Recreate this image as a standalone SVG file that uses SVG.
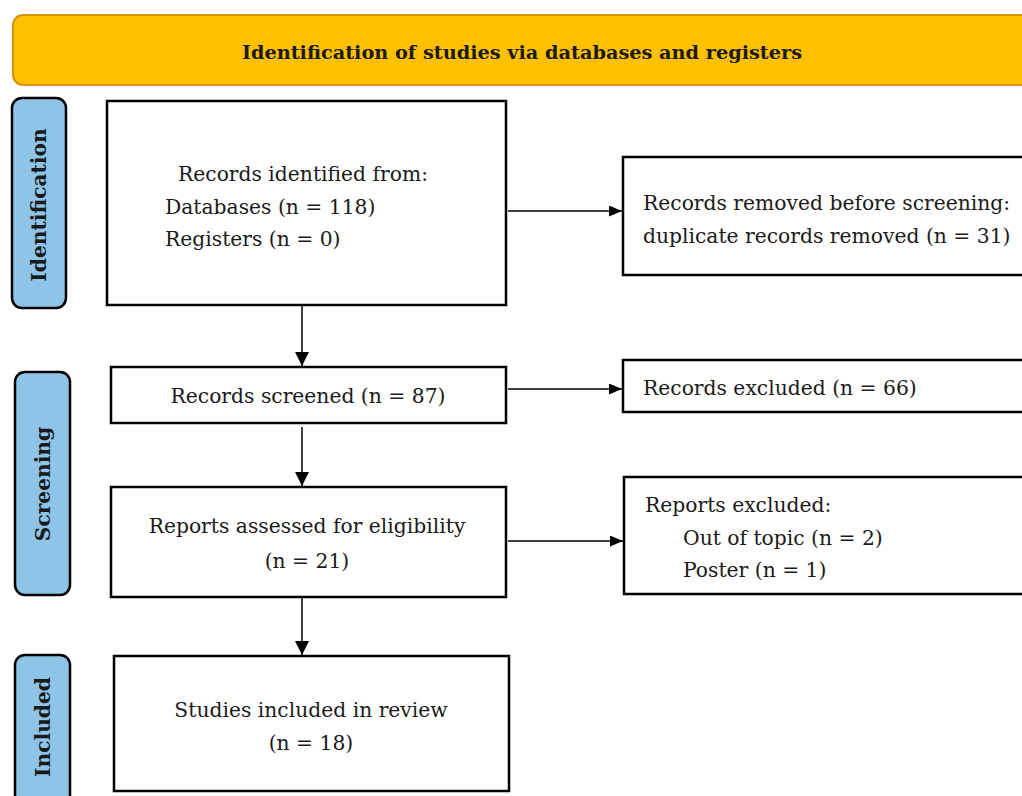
<svg xmlns="http://www.w3.org/2000/svg" width="1022" height="796" viewBox="0 0 1022 796">
<style>
.box{fill:#fff;stroke:#000;stroke-width:2.5}
.side{fill:#8EC4E8;stroke:#000;stroke-width:2.5}
.t{font-family:"DejaVu Serif",serif;font-size:20.3px;fill:#1a1a1a}
.c{text-anchor:middle}
.st{font-family:"DejaVu Serif",serif;font-size:19.3px;font-weight:bold;fill:#1a1a1a;text-anchor:middle}
.sl{font-family:"DejaVu Serif",serif;font-size:20.2px;font-weight:bold;fill:#1a1a1a;text-anchor:middle}
.ln{stroke:#000;stroke-width:1.5;fill:none}
</style>
<defs>
<marker id="ah" viewBox="0 0 13 11" refX="13" refY="5.5" markerWidth="13" markerHeight="11" markerUnits="userSpaceOnUse" orient="auto">
<path d="M0,0 L13,5.5 L0,11 z" fill="#000"/>
</marker>
<marker id="ahb" viewBox="0 0 14 14" refX="14" refY="7" markerWidth="14" markerHeight="14" markerUnits="userSpaceOnUse" orient="auto">
<path d="M0,0 L14,7 L0,14 z" fill="#000"/>
</marker>
</defs>
<rect width="1022" height="796" fill="#fff"/>
<g id="banner">
<rect x="13" y="15" width="1030" height="70" rx="10" fill="#FFC000" stroke="#D2940C" stroke-width="2"/>
<text x="522" y="59" class="st">Identification of studies via databases and registers</text>
</g>
<g id="lbl-identification">
<rect class="side" x="12" y="98" width="54" height="210" rx="10"/>
<text class="sl" transform="translate(46,205) rotate(-90)">Identification</text>
</g>
<g id="lbl-screening">
<rect class="side" x="15" y="372" width="55" height="223" rx="10"/>
<text class="sl" transform="translate(50,484) rotate(-90)">Screening</text>
</g>
<g id="lbl-included">
<rect class="side" x="15" y="655" width="55" height="160" rx="10"/>
<text class="sl" transform="translate(50,727) rotate(-90)">Included</text>
</g>
<g id="n-identified">
<rect class="box" x="107" y="101" width="399" height="204"/>
<text class="t" x="178" y="181">Records identified from:</text>
<text class="t" x="165" y="214">Databases (n = 118)</text>
<text class="t" x="165" y="246">Registers (n = 0)</text>
</g>
<g id="n-removed">
<rect class="box" x="623" y="157" width="420" height="118"/>
<text class="t" x="643" y="210">Records removed before screening:</text>
<text class="t" x="643" y="243">duplicate records removed (n = 31)</text>
</g>
<g id="n-screened">
<rect class="box" x="111" y="367" width="395" height="56"/>
<text class="t c" x="308" y="403">Records screened (n = 87)</text>
</g>
<g id="n-excluded">
<rect class="box" x="623" y="360" width="420" height="52"/>
<text class="t" x="643" y="395">Records excluded (n = 66)</text>
</g>
<g id="n-assessed">
<rect class="box" x="111" y="487" width="395" height="110"/>
<text class="t c" x="307" y="533">Reports assessed for eligibility</text>
<text class="t c" x="307" y="568">(n = 21)</text>
</g>
<g id="n-rep-excluded">
<rect class="box" x="624" y="477" width="420" height="117"/>
<text class="t" x="645" y="512">Reports excluded:</text>
<text class="t" x="683" y="545">Out of topic (n = 2)</text>
<text class="t" x="683" y="577">Poster (n = 1)</text>
</g>
<g id="n-included">
<rect class="box" x="114" y="656" width="395" height="135"/>
<text class="t c" x="311" y="717">Studies included in review</text>
<text class="t c" x="311" y="750">(n = 18)</text>
</g>
<g id="connectors">
<line class="ln" x1="508" y1="211" x2="622" y2="211" marker-end="url(#ah)"/>
<line class="ln" x1="508" y1="389" x2="622" y2="389" marker-end="url(#ah)"/>
<line class="ln" x1="508" y1="541" x2="623" y2="541" marker-end="url(#ah)"/>
<line class="ln" x1="302" y1="306" x2="302" y2="366" marker-end="url(#ahb)"/>
<line class="ln" x1="302" y1="427" x2="302" y2="486" marker-end="url(#ahb)"/>
<line class="ln" x1="302" y1="598" x2="302" y2="655" marker-end="url(#ahb)"/>
</g>
</svg>
